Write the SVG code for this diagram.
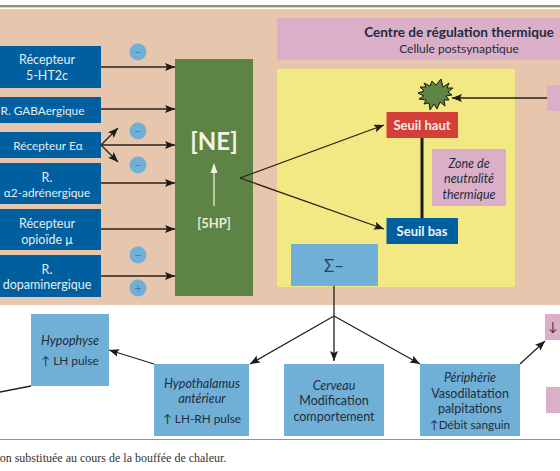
<svg xmlns="http://www.w3.org/2000/svg" width="560" height="471" viewBox="0 0 560 471">
<style>
text{font-family:"Lato","Open Sans","Liberation Sans",sans-serif;font-size:12.500px;text-anchor:middle;fill:#1f2c3d}
.w{fill:#e4edf2}
.i{font-style:italic}
.dk{fill:#005f9e}
.lb{fill:#71b0d6}
.pk{fill:#dbafc7}
.c{fill:#71b0d6}
.s{fill:#4f7fa8;font-size:13px}
.l{stroke:#2a2018;stroke-width:1.3;fill:none}
.la{stroke:#2a2018;stroke-width:1.3;fill:none;marker-end:url(#a)}
.u{font-size:11.800px}
</style>
<defs><marker id="a" markerUnits="userSpaceOnUse" markerWidth="11" markerHeight="9" refX="10" refY="4" orient="auto"><path d="M0 0L10 4L0 8L2 4Z" fill="#1e1a14"/></marker></defs>
<rect width="560" height="471" fill="#fff"/>
<rect y="5" width="560" height="2.4" fill="#8b9770"/>
<rect y="9" width="560" height="296" fill="#e6c7ae"/>
<rect y="439" width="560" height="1" fill="#7da56a"/>
<g id="centre"><rect class="pk" x="277" y="18" width="283" height="42"/>
<text x="459" y="37" style="font-weight:700;font-size:13.600px">Centre de régulation thermique</text>
<text x="459" y="53" style="font-size:12px">Cellule postsynaptique</text></g>
<rect id="zone-jaune" x="277" y="69" width="238" height="218" fill="#f2e985"/>
<g id="r1"><rect class="dk" x="0" y="46" width="101" height="42"/><text class="w" x="47" y="64">Récepteur</text><text class="w" x="47" y="80">5-HT2c</text></g>
<g id="r2"><rect class="dk" x="0" y="97" width="101" height="26"/><text class="w u" x="42.500" y="115">R. GABAergique</text></g>
<g id="r3"><rect class="dk" x="0" y="132" width="101" height="26"/><text class="w u" x="48" y="150">Récepteur Eα</text></g>
<g id="r4"><rect class="dk" x="0" y="163" width="101" height="41"/><text class="w" x="47" y="182">R.</text><text class="w u" x="47" y="197">α2-adrénergique</text></g>
<g id="r5"><rect class="dk" x="0" y="209" width="101" height="41"/><text class="w" x="47" y="228">Récepteur</text><text class="w" x="47" y="244">opioïde μ</text></g>
<g id="r6"><rect class="dk" x="0" y="255" width="101" height="42"/><text class="w" x="47" y="274">R.</text><text class="w" x="47" y="289">dopaminergique</text></g>
<g id="ne"><rect x="175" y="59" width="78" height="237" fill="#5d8345"/>
<text x="214" y="150" style="font-weight:700;font-size:24px;fill:#f3f3e6">[NE]</text>
<text x="214" y="228" style="font-size:13px;font-weight:700;fill:#e9ecd9">[5HP]</text>
<path d="M214 206V171" stroke="#f3f3e6" stroke-width="1.2"/><path d="M214 163l-3.500 10h7z" fill="#f3f3e6"/></g>
<g id="signes">
<circle class="c" cx="138" cy="52" r="8.500"/><text class="s" x="138" y="56.500">–</text>
<circle class="c" cx="138" cy="131" r="8.500"/><text class="s" x="138" y="135.500">–</text>
<circle class="c" cx="138" cy="165" r="8.500"/><text class="s" x="138" y="169.500">–</text>
<circle class="c" cx="138" cy="255" r="8.500"/><text class="s" x="138" y="259.500">–</text>
<circle class="c" cx="138" cy="288" r="8.500"/><text class="s" x="138" y="292.500">+</text>
</g>
<g id="seuil-haut"><rect x="386.500" y="112" width="71.500" height="26" fill="#d43f3a"/><text x="422" y="130" style="font-weight:700;font-size:13px;fill:#f6ece4">Seuil haut</text></g>
<g id="seuil-bas"><rect class="dk" x="386.500" y="218" width="71.500" height="26"/><text x="422" y="236" style="font-weight:700;font-size:13px;fill:#eef3f6">Seuil bas</text></g>
<g id="zone-neutralite"><rect class="pk" x="432" y="149" width="74" height="57"/>
<text class="i" x="469" y="168">Zone de</text><text class="i" x="469" y="183">neutralité</text><text class="i" x="469" y="199">thermique</text></g>
<g id="etoile"><path d="M441 79L443 87L449 83L447 88L453 88L448 92L452 95L446 96L449 100L444 100L445 106L440 102L437 109L434 104L430 110L429 103L424 104L426 100L419 99L424 96L418 93L424 91L420 87L426 87L424 83L430 86L432 81L436 85Z" fill="#5d8345" stroke="#1e1a14" stroke-width="1"/></g>
<rect id="pink-right" class="pk" x="547" y="85" width="13" height="26"/>
<g id="sigma"><rect class="lb" x="291" y="244" width="87" height="42"/><text x="334" y="272" style="font-size:17px;fill:#1d4566">Σ–</text></g>
<g id="hypophyse"><rect class="lb" x="31" y="314" width="78" height="72"/><text class="i" x="70" y="345">Hypophyse</text><text class="u" x="70" y="365">↑ LH pulse</text></g>
<g id="hypothalamus"><rect class="lb" x="154" y="364" width="95" height="72"/><text class="i" x="202" y="388">Hypothalamus</text><text class="i" x="202" y="403">antérieur</text><text class="u" x="202" y="423">↑ LH-RH pulse</text></g>
<g id="cerveau"><rect class="lb" x="284" y="364" width="100" height="72"/><text class="i" x="334" y="390">Cerveau</text><text x="334" y="405">Modification</text><text x="334" y="421">comportement</text></g>
<g id="peripherie"><rect class="lb" x="420" y="364" width="100" height="72"/><text class="i" x="470" y="382">Périphérie</text><text x="470" y="398">Vasodilatation</text><text x="470" y="413">palpitations</text><text class="u" x="470" y="429">↑Débit sanguin</text></g>
<g id="pink-bas"><rect class="pk" x="545" y="314" width="15" height="26"/><text x="553" y="331">↓</text><rect class="pk" x="546" y="387" width="14" height="26"/></g>
<text x="113" y="462" style="font-family:'Liberation Serif',serif;font-size:12px;fill:#333">on substituée au cours de la bouffée de chaleur.</text>
<g id="connecteurs">
<path class="la" d="M101 67H175"/><path class="la" d="M101 109H175"/><path class="la" d="M101 145H175"/><path class="la" d="M101 183H175"/><path class="la" d="M101 229H175"/><path class="la" d="M101 276H175"/>
<path class="la" d="M101 145L118 128"/><path class="la" d="M101 145L118 162"/>
<path class="la" d="M240 178L384 125"/><path class="la" d="M240 178L384 229"/>
<path d="M422 138V218" stroke="#1e1a14" stroke-width="3"/>
<path class="la" d="M547 98H452"/>
<path class="la" d="M334 286V361"/><path class="la" d="M334 316L250 364"/><path class="la" d="M334 316L420 364"/>
<path class="la" d="M520 364L545 341"/>
<path class="la" d="M154 364L109 350"/>
<path class="l" d="M31 386L0 392"/>
</g>
</svg>
